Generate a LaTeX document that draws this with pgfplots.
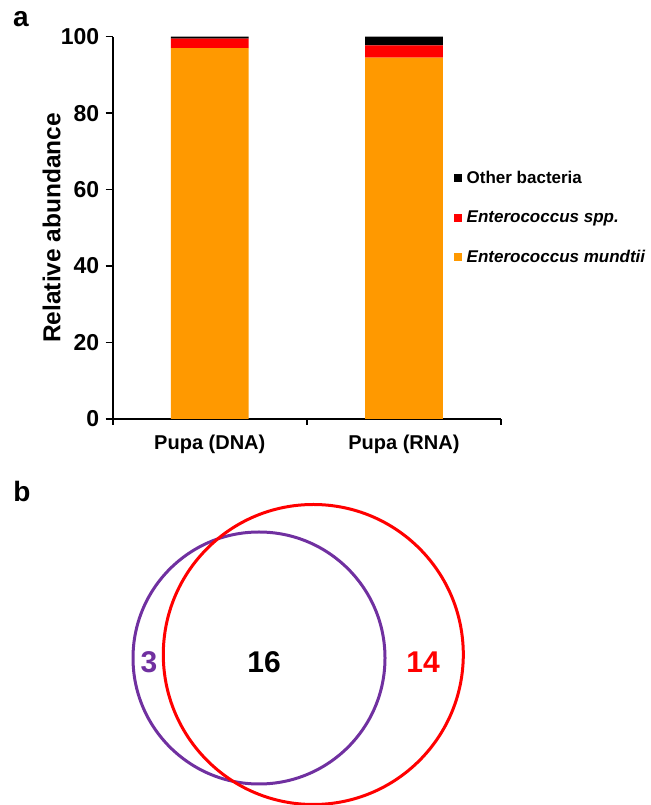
\documentclass[border=0pt]{standalone}
\usepackage{fontspec}
\setmainfont{Liberation Sans}
\usepackage{pgfplots}
\pgfplotsset{compat=1.18}

\definecolor{mundtii}{RGB}{255,153,0}
\definecolor{enteroc}{RGB}{255,0,0}
\definecolor{vpurple}{RGB}{112,48,160}

\begin{document}
\begin{tikzpicture}[x=1pt,y=1pt]
\useasboundingbox (0,0) rectangle (650,805);

% panel labels
\node[font=\fontsize{28}{30}\selectfont\bfseries] at (21,785.5) {a};
\node[font=\fontsize{28}{30}\selectfont\bfseries] at (22,314) {b};

% ---- panel a: stacked bars ----
\begin{axis}[
  at={(112.7pt,386pt)}, anchor=south west,
  scale only axis, width=388.3pt, height=382.3pt,
  xmin=-0.5, xmax=1.5, ymin=0, ymax=100,
  ybar stacked, bar width=0.4,
  axis x line*=bottom, axis y line*=left,
  axis line style={line width=1.6pt},
  every tick/.style={line width=1.6pt,black},
  tick align=outside,
  xtick={0,1}, xticklabels={Pupa (DNA),Pupa (RNA)},
  major x tick style={draw=none},
  minor xtick={-0.5,0.5,1.5}, minor tick length=6pt,
  ytick={0,20,...,100}, major tick length=7pt,
  /pgf/number format/assume math mode=true,
  xticklabel style={font=\fontsize{20}{22}\selectfont\bfseries, yshift=-5pt},
  yticklabel style={font=\fontsize{23}{25}\selectfont\bfseries, xshift=-3pt},
  ylabel={Relative abundance},
  ylabel style={font=\fontsize{24.5}{27}\selectfont\bfseries,
    at={(axis description cs:-0.157,0.5)}, anchor=center},
  legend style={draw=none, fill=none, at={(axis description cs:0.878,0.654)},
    anchor=north west, font=\fontsize{17}{19}\selectfont\bfseries,
    row sep=22pt, inner sep=0pt, cells={anchor=west}},
  legend image code/.code={\fill[#1] (0pt,-4pt) rectangle (8pt,4pt);},
  reverse legend,
  clip=false,
]
\addplot[fill=mundtii, draw=none] coordinates {(0,97.0) (1,94.5)};
\addplot[fill=enteroc, draw=none] coordinates {(0,2.5) (1,3.2)};
\addplot[fill=black, draw=none] coordinates {(0,0.5) (1,2.3)};
\legend{\,\textit{Enterococcus mundtii},\,\textit{Enterococcus spp.},\,Other bacteria}
\end{axis}

% ---- panel b: Venn diagram ----
\begin{axis}[
  at={(0pt,0pt)}, anchor=south west,
  scale only axis, width=650pt, height=310pt,
  xmin=0, xmax=650, ymin=0, ymax=310,
  hide axis, clip=false,
]
\draw[vpurple, line width=3pt] (axis cs:259,147) circle [radius=126];
\draw[enteroc, line width=3pt] (axis cs:313.3,150.5) circle [radius=150];
\node[vpurple, font=\fontsize{30}{32}\selectfont\bfseries] at (axis cs:149,143) {3};
\node[black, font=\fontsize{30}{32}\selectfont\bfseries] at (axis cs:264,143) {16};
\node[enteroc, font=\fontsize{30}{32}\selectfont\bfseries] at (axis cs:423,143) {14};
\end{axis}
\end{tikzpicture}
\end{document}
